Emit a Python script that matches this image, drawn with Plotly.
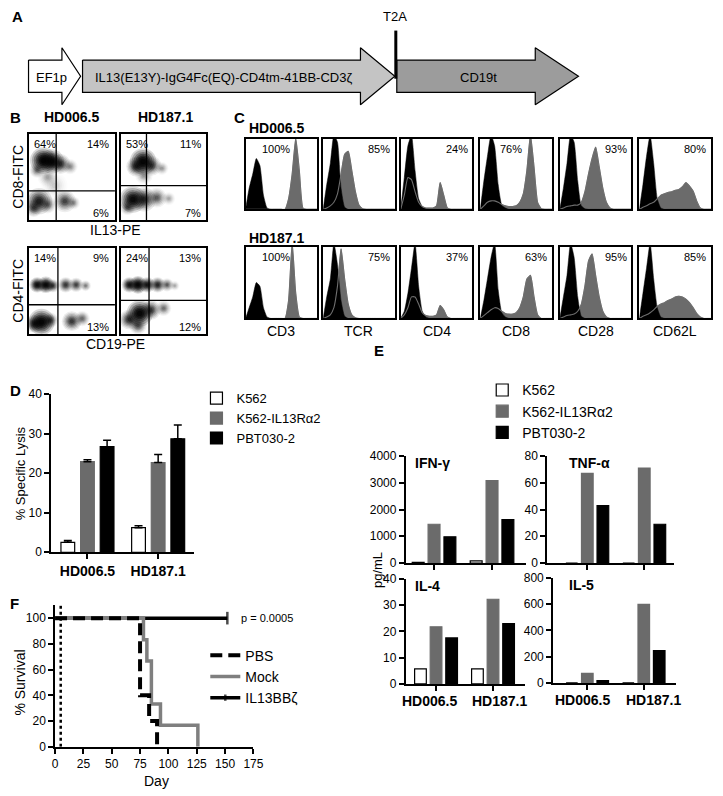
import plotly.graph_objects as go

# ======================= DATA =======================
# Panel A - construct map
construct_parts = ["EF1p", "IL13(E13Y)-IgG4Fc(EQ)-CD4tm-41BB-CD3ζ", "CD19t"]
part_start = [26, 81, 401]
part_end = [79, 399, 586]
t2a_site = 400

# Panel B - flow dot plots
donors = ["HD006.5", "HD187.1"]
b_xlabels = ["IL13-PE", "CD19-PE"]
b_ylabels = ["CD8-FITC", "CD4-FITC"]
gate_x = [0.32, 0.30, 0.34, 0.33]
gate_y = [0.34, 0.40, 0.34, 0.39]
quad_pct = [["64%", "14%", "6%"], ["53%", "11%", "7%"],
            ["14%", "9%", "13%"], ["24%", "13%", "12%"]]
# event populations: (x, y, spread, density)
clusters_cd8_hd0065 = [(0.17, 0.69, 24, 1.0), (0.27, 0.68, 22, 0.9), (0.37, 0.65, 18, 0.5),
                       (0.48, 0.62, 14, 0.22), (0.10, 0.58, 14, 0.3), (0.22, 0.50, 18, 0.15),
                       (0.12, 0.22, 24, 0.65), (0.06, 0.14, 16, 0.4), (0.22, 0.18, 16, 0.3),
                       (0.42, 0.22, 20, 0.45), (0.52, 0.20, 12, 0.2), (0.30, 0.40, 24, 0.08)]
clusters_cd8_hd1871 = [(0.26, 0.68, 24, 1.0), (0.18, 0.62, 18, 0.55), (0.36, 0.63, 18, 0.45),
                       (0.48, 0.60, 12, 0.18), (0.27, 0.52, 16, 0.2), (0.14, 0.24, 24, 0.9),
                       (0.27, 0.24, 22, 0.6), (0.42, 0.26, 18, 0.35), (0.56, 0.25, 12, 0.15),
                       (0.08, 0.15, 14, 0.35)]
clusters_cd4_hd0065 = [(0.10, 0.57, 14, 0.85), (0.20, 0.57, 15, 0.95), (0.28, 0.56, 12, 0.5),
                       (0.43, 0.57, 14, 0.5), (0.55, 0.57, 13, 0.45), (0.66, 0.56, 10, 0.25),
                       (0.15, 0.14, 24, 1.0), (0.07, 0.12, 16, 0.6), (0.25, 0.16, 14, 0.45),
                       (0.50, 0.15, 18, 0.5), (0.62, 0.18, 14, 0.3)]
clusters_cd4_hd1871 = [(0.10, 0.57, 14, 0.75), (0.20, 0.57, 16, 1.0), (0.31, 0.57, 14, 0.75),
                       (0.43, 0.57, 14, 0.6), (0.54, 0.57, 12, 0.35), (0.63, 0.56, 9, 0.15),
                       (0.22, 0.24, 24, 1.0), (0.10, 0.17, 18, 0.55), (0.35, 0.28, 18, 0.5),
                       (0.50, 0.30, 14, 0.28), (0.20, 0.10, 16, 0.4)]

# Panel C - histograms (fluorescence bins, normalised counts)
hist_bins = [0, 5, 10, 15, 20, 25, 30, 35, 40, 45, 50, 55, 60, 65, 70, 75, 80, 85, 90, 95, 100]
c_markers = ["CD3", "TCR", "CD4", "CD8", "CD28", "CD62L"]
c_pct = [["100%", "85%", "24%", "76%", "93%", "80%"],
         ["100%", "75%", "37%", "63%", "95%", "85%"]]
iso_hd0065 = [
    [0, 0.3, 0.5, 0.72, 0.62, 0.2, 0.02, 0, 0, 0, 0, 0, 0, 0, 0, 0, 0, 0, 0, 0, 0],
    [0, 0.35, 0.65, 1.05, 0.95, 0.3, 0.03, 0, 0, 0, 0, 0, 0, 0, 0, 0, 0, 0, 0, 0, 0],
    [0, 0.45, 0.9, 1.05, 0.55, 0.15, 0.04, 0.01, 0, 0, 0, 0, 0, 0, 0, 0, 0, 0, 0, 0, 0],
    [0, 0.4, 0.75, 1.05, 0.9, 0.35, 0.06, 0.02, 0, 0, 0, 0, 0, 0, 0, 0, 0, 0, 0, 0, 0],
    [0, 0.3, 0.65, 1.05, 0.95, 0.4, 0.05, 0.01, 0, 0, 0, 0, 0, 0, 0, 0, 0, 0, 0, 0, 0],
    [0, 0.35, 0.75, 1.05, 0.65, 0.15, 0.02, 0, 0, 0, 0, 0, 0, 0, 0, 0, 0, 0, 0, 0, 0]]
stain_hd0065 = [
    [0, 0, 0, 0, 0, 0, 0, 0, 0, 0, 0, 0, 0.15, 0.5, 1.0, 0.55, 0.02, 0, 0, 0, 0],
    [0, 0.02, 0.05, 0.1, 0.22, 0.5, 0.78, 0.82, 0.55, 0.25, 0.06, 0.01, 0, 0, 0, 0, 0, 0, 0, 0, 0],
    [0, 0.2, 0.45, 0.42, 0.25, 0.1, 0.04, 0.02, 0.02, 0.02, 0.05, 0.38, 0.2, 0.02, 0, 0, 0, 0, 0, 0, 0],
    [0, 0.05, 0.1, 0.12, 0.12, 0.1, 0.07, 0.05, 0.04, 0.04, 0.05, 0.1, 0.22, 0.55, 1.05, 0.6, 0.1, 0.01, 0, 0, 0],
    [0, 0.02, 0.04, 0.05, 0.06, 0.06, 0.1, 0.25, 0.5, 0.72, 0.88, 0.6, 0.3, 0.1, 0.02, 0, 0, 0, 0, 0, 0],
    [0, 0.03, 0.05, 0.08, 0.1, 0.15, 0.2, 0.22, 0.24, 0.25, 0.27, 0.28, 0.32, 0.38, 0.33, 0.26, 0.12, 0.02, 0, 0, 0]]
iso_hd1871 = [
    [0, 0.15, 0.3, 0.5, 0.45, 0.15, 0.02, 0, 0, 0, 0, 0, 0, 0, 0, 0, 0, 0, 0, 0, 0],
    [0, 0.3, 0.55, 1.05, 0.75, 0.25, 0.03, 0, 0, 0, 0, 0, 0, 0, 0, 0, 0, 0, 0, 0, 0],
    [0, 0.1, 0.35, 0.7, 1.05, 0.45, 0.1, 0.02, 0, 0, 0, 0, 0, 0, 0, 0, 0, 0, 0, 0, 0],
    [0, 0.25, 0.55, 0.85, 1.05, 0.4, 0.08, 0.02, 0, 0, 0, 0, 0, 0, 0, 0, 0, 0, 0, 0, 0],
    [0, 0.3, 0.6, 1.05, 0.85, 0.3, 0.03, 0, 0, 0, 0, 0, 0, 0, 0, 0, 0, 0, 0, 0, 0],
    [0, 0.35, 0.7, 1.05, 0.55, 0.15, 0.02, 0, 0, 0, 0, 0, 0, 0, 0, 0, 0, 0, 0, 0, 0]]
stain_hd1871 = [
    [0, 0, 0, 0, 0, 0, 0, 0, 0, 0, 0, 0, 0.25, 1.05, 0.35, 0.02, 0, 0, 0, 0, 0],
    [0, 0.02, 0.05, 0.15, 0.45, 0.97, 0.55, 0.2, 0.05, 0.01, 0, 0, 0, 0, 0, 0, 0, 0, 0, 0, 0],
    [0, 0.05, 0.15, 0.3, 0.3, 0.2, 0.08, 0.04, 0.03, 0.03, 0.05, 0.18, 0.12, 0.02, 0, 0, 0, 0, 0, 0, 0],
    [0, 0.04, 0.08, 0.12, 0.15, 0.14, 0.1, 0.07, 0.06, 0.06, 0.08, 0.15, 0.3, 0.55, 0.6, 0.3, 0.05, 0, 0, 0, 0],
    [0, 0.02, 0.04, 0.05, 0.06, 0.1, 0.2, 0.45, 0.8, 0.9, 0.6, 0.3, 0.1, 0.02, 0, 0, 0, 0, 0, 0, 0],
    [0, 0.03, 0.05, 0.08, 0.12, 0.17, 0.2, 0.22, 0.25, 0.27, 0.3, 0.31, 0.3, 0.27, 0.22, 0.15, 0.07, 0.02, 0, 0, 0]]

# Panel D - cytotoxicity (% specific lysis, mean and SEM)
groups = ["HD006.5", "HD187.1"]
targets = ["K562", "K562-IL13Rα2", "PBT030-2"]
lysis_k562 = [2.5, 6.2]
lysis_k562_sem = [0.5, 0.5]
lysis_il13ra2 = [22.9, 22.7]
lysis_il13ra2_sem = [0.5, 2.0]
lysis_pbt030 = [26.7, 28.7]
lysis_pbt030_sem = [1.6, 3.5]

# Panel E - cytokines (pg/mL)
ifng = [[30, 80], [1450, 3080], [980, 1620]]
tnfa = [[0, 0], [67, 71], [43, 29]]
il4 = [[5.7, 5.7], [21.7, 32.2], [17.5, 22.9]]
il5 = [[0, 0], [72, 597], [18, 245]]

# Panel F - survival
pbs_days = [0, 75, 83, 90]
pbs_surv = [100, 40, 20, 0]
mock_days = [0, 78, 81, 85, 93, 126]
mock_surv = [100, 83.3, 66.7, 33.3, 16.7, 0]
il13bbz_days = [0, 152]
il13bbz_surv = [100, 100]
treatment_day = 5

# ======================= FIGURE =======================
W, H = 723, 796
FONT = "Liberation Sans, Arial, Helvetica, sans-serif"
GRAY = "#6b6b6b"

fig = go.Figure()
axes = {}
anns = []
count = [0]


def add_axes(xpx, ypx, xr, yr, xextra=None, yextra=None):
    count[0] += 1
    s = "" if count[0] == 1 else str(count[0])
    base = dict(showgrid=False, zeroline=False, showticklabels=False, ticks="",
                showline=False, fixedrange=True)
    xa = dict(base, domain=[xpx[0] / W, xpx[1] / W], range=list(xr), anchor="y" + s)
    ya = dict(base, domain=[1 - ypx[1] / H, 1 - ypx[0] / H], range=list(yr), anchor="x" + s)
    if xextra:
        xa.update(xextra)
    if yextra:
        ya.update(yextra)
    axes["xaxis" + s] = xa
    axes["yaxis" + s] = ya
    return "x" + s, "y" + s


def note(x, y, s, size=13, bold=False, xanchor="center", yanchor="middle", angle=0,
         xref="paper", yref="paper"):
    if xref == "paper":
        x = x / W
    if yref == "paper":
        y = 1 - y / H
    anns.append(dict(x=x, y=y, xref=xref, yref=yref, text=s, showarrow=False,
                     xanchor=xanchor, yanchor=yanchor, textangle=angle,
                     font=dict(family=FONT, size=size, color="black",
                               weight="bold" if bold else "normal")))


BOX = dict(showline=True, mirror=True, linecolor="black", linewidth=1.5)


def chart_axis(tickvals=None, labels=True, tsize=12, bold=False, cat=False):
    d = dict(showline=True, linecolor="black", linewidth=1.5, ticks="outside", ticklen=5,
             tickwidth=1.5, tickcolor="black", showticklabels=labels, tickangle=0,
             tickfont=dict(family=FONT, size=tsize, color="black",
                           weight="bold" if bold else "normal"))
    if tickvals is not None:
        d["tickvals"] = tickvals
    if cat:
        d["type"] = "category"
    return d


# ---------- Panel letters ----------
for letter, (lx, ly) in zip("ABCDEF", [(7, 10), (5, 112), (233, 112), (5, 390), (376, 350), (5, 607)]):
    note(lx, ly, letter, size=15, bold=True, xanchor="left")

# ---------- Panel A ----------
xa, ya = add_axes((0, W), (0, 110), (0, W), (110, 0))
part_fill = ["white", "#c4c4c4", "#9c9c9c"]
part_head = [19, 35, 44]
cy, body, head = 70.5, 16.5, 29
for i, name in enumerate(construct_parts):
    s, e, h = part_start[i], part_end[i], part_head[i]
    xs = [s, e - h, e - h, e, e - h, e - h, s, s]
    ys = [cy - body, cy - body, cy - head, cy, cy + head, cy + body, cy + body, cy - body]
    fig.add_trace(go.Scatter(x=xs, y=ys, xaxis=xa, yaxis=ya, mode="lines", fill="toself",
                             fillcolor=part_fill[i], line=dict(color="black", width=1.2),
                             showlegend=False, hoverinfo="skip"))
    note(s + 0.45 * (e - s), cy + 1, name, size=13, xref=xa, yref=ya)
fig.add_trace(go.Scatter(x=[t2a_site, t2a_site], y=[24, 73], xaxis=xa, yaxis=ya, mode="lines",
                         line=dict(color="black", width=3), showlegend=False, hoverinfo="skip"))
note(t2a_site - 1, 10, "T2A", size=13, xref=xa, yref=ya)

# ---------- Panel B ----------
b_boxes = [(26, 114, 129, 217), (120, 207, 129, 217), (26, 114, 245, 333), (120, 207, 245, 333)]
b_clusters = [clusters_cd8_hd0065, clusters_cd8_hd1871, clusters_cd4_hd0065, clusters_cd4_hd1871]
layers = [(1.0, 0.15), (0.86, 0.22), (0.72, 0.3), (0.58, 0.38), (0.45, 0.45), (0.33, 0.52), (0.2, 0.6)]
for i, (x0, x1, y0, y1) in enumerate(b_boxes):
    xa, ya = add_axes((x0, x1), (y0, y1), (0, 1), (0, 1), BOX, BOX)
    cl = b_clusters[i]
    for f, op in layers:
        fig.add_trace(go.Scatter(
            x=[c[0] for c in cl], y=[c[1] for c in cl], xaxis=xa, yaxis=ya, mode="markers",
            marker=dict(size=[c[2] * f * 1.1 for c in cl], color="black",
                        opacity=[min(1, c[3] * op) for c in cl], line=dict(width=0)),
            showlegend=False, hoverinfo="skip"))
    gx, gy = gate_x[i], gate_y[i]
    fig.add_trace(go.Scatter(x=[gx, gx, None, 0, 1], y=[0, 1, None, gy, gy], xaxis=xa, yaxis=ya,
                             mode="lines", line=dict(color="black", width=1.3),
                             showlegend=False, hoverinfo="skip"))
    p = quad_pct[i]
    note(0.04, 0.885, p[0], size=11, xanchor="left", xref=xa, yref=ya)
    note(0.96, 0.885, p[1], size=11, xanchor="right", xref=xa, yref=ya)
    note(0.96, 0.085, p[2], size=11, xanchor="right", xref=xa, yref=ya)

note(70, 112, donors[0], size=14, bold=True)
note(165, 112, donors[1], size=14, bold=True)
note(15, 173, b_ylabels[0], size=14, angle=-90)
note(115, 227, b_xlabels[0], size=14)
note(15, 289, b_ylabels[1], size=14, angle=-90)
note(115, 343, b_xlabels[1], size=14)

# ---------- Panel C ----------
c_x0 = [247, 326, 405, 486, 567, 648]
c_rows = [(134, 206), (244, 317)]
c_mid = [[True, False, False, True, False, False], [True, False, False, False, False, False]]
iso_all = [iso_hd0065, iso_hd1871]
stain_all = [stain_hd0065, stain_hd1871]
for r, (y0, y1) in enumerate(c_rows):
    for j in range(6):
        xa, ya = add_axes((c_x0[j], c_x0[j] + 73), (y0, y1), (0, 100), (0, 1.0), BOX, BOX)
        fig.add_trace(go.Scatter(x=hist_bins, y=stain_all[r][j], xaxis=xa, yaxis=ya, mode="lines",
                                 fill="tozeroy", fillcolor=GRAY, line=dict(color=GRAY, width=0.5, shape="spline", smoothing=0.5),
                                 showlegend=False, hoverinfo="skip"))
        fig.add_trace(go.Scatter(x=hist_bins, y=iso_all[r][j], xaxis=xa, yaxis=ya, mode="lines",
                                 fill="tozeroy", fillcolor="black", line=dict(color="black", width=0.5, shape="spline", smoothing=0.5),
                                 showlegend=False, hoverinfo="skip"))
        fig.add_trace(go.Scatter(x=hist_bins, y=stain_all[r][j], xaxis=xa, yaxis=ya, mode="lines",
                                 line=dict(color="#6e6e6e", width=1.1, shape="spline", smoothing=0.5),
                                 showlegend=False, hoverinfo="skip"))
        if c_mid[r][j]:
            note(43, 0.85, c_pct[r][j], size=11, xref=xa, yref=ya)
        else:
            note(96, 0.85, c_pct[r][j], size=11, xanchor="right", xref=xa, yref=ya)
        if r == 1:
            note(c_x0[j] + 36.5, 330, c_markers[j], size=14)
note(248, 123, donors[0], size=14, bold=True, xanchor="left")
note(248, 235, donors[1], size=14, bold=True, xanchor="left")

# ---------- Panel D ----------
fills = ["white", GRAY, "black"]
edges = ["black", GRAY, "black"]
xa, ya = add_axes((49, 195), (394, 555), (-0.514, 1.514), (0, 40),
                  chart_axis(None, True, 14, True, cat=True), chart_axis([0, 10, 20, 30, 40]))
d_vals = [lysis_k562, lysis_il13ra2, lysis_pbt030]
d_sem = [lysis_k562_sem, lysis_il13ra2_sem, lysis_pbt030_sem]
slot, bw = 20 / 72, 14 / 72
for i in range(3):
    fig.add_trace(go.Bar(
        x=groups, y=d_vals[i], width=bw, offset=(i - 1) * slot - bw / 2, xaxis=xa, yaxis=ya,
        marker=dict(color=fills[i], line=dict(color=edges[i], width=1.2)),
        error_y=dict(type="data", array=d_sem[i], arrayminus=[0, 0], symmetric=False,
                     color="black", thickness=1.5, width=4),
        name=targets[i], legend="legend", hoverinfo="skip"))
note(18, 475, "% Specific Lysis", size=13, angle=-90)

# ---------- Panel E ----------
e_specs = [
    ("IFN-γ", ifng, (410, 533), (457, 566), (-0.49, 1.593), [0, 1000, 2000, 3000, 4000], None, (418, 464)),
    ("TNF-α", tnfa, (554, 683), (457, 566), (-0.707, 1.517), [0, 20, 40, 60, 80], None, (574, 464)),
    ("IL-4", il4, (410, 532), (582, 689), (-0.534, 1.569), [0, 10, 20, 30, 40], (434, 506), (418, 589)),
    ("IL-5", il5, (560, 685), (581, 688), (-0.609, 1.565), [0, 200, 400, 600, 800], (590, 662), (574, 588)),
]
eslot, ebw = 16 / 58.5, 12 / 58.5
for k, (title, vals, xp, yp, xr, ticks, labpos, tpos) in enumerate(e_specs):
    xa, ya = add_axes(xp, yp, xr, (0, ticks[-1]),
                      chart_axis(None, False, 14, True, cat=True), chart_axis(ticks))
    for i in range(3):
        fig.add_trace(go.Bar(
            x=groups, y=vals[i], width=ebw, offset=(i - 1) * eslot - ebw / 2, xaxis=xa, yaxis=ya,
            marker=dict(color=fills[i], line=dict(color=edges[i], width=1.2)),
            name=targets[i], legend="legend2", showlegend=(k == 0), hoverinfo="skip"))
    note(tpos[0], tpos[1], title, size=14, bold=True, xanchor="left")
    if labpos:
        for g, lx in zip(groups, labpos):
            note(lx, yp[1] + 17, g, size=14, bold=True)
note(382, 573, "pg/mL", size=13, angle=-90)

# ---------- Panel F ----------
xa, ya = add_axes((53, 255), (609, 753), (0, 175), (0, 110),
                  chart_axis([0, 25, 50, 75, 100, 125, 150, 175]), chart_axis([0, 20, 40, 60, 80, 100]))
fig.add_trace(go.Scatter(x=[treatment_day, treatment_day], y=[0, 110], xaxis=xa, yaxis=ya, mode="lines",
                         line=dict(color="black", width=2.5, dash="dot"), showlegend=False, hoverinfo="skip"))
fig.add_trace(go.Scatter(x=il13bbz_days, y=il13bbz_surv, xaxis=xa, yaxis=ya, mode="lines+markers",
                         line=dict(color="black", width=3.5, shape="hv"),
                         marker=dict(symbol="line-ns", size=[0, 9], line=dict(width=2.5, color="black")),
                         name="IL13BBζ", legend="legend3", legendrank=3, legendgroup="c",
                         cliponaxis=False, hoverinfo="skip"))
fig.add_trace(go.Scatter(x=mock_days, y=mock_surv, xaxis=xa, yaxis=ya, mode="lines",
                         line=dict(color="#7f7f7f", width=3.5, shape="hv"),
                         name="Mock", legend="legend3", legendrank=2, legendgroup="b",
                         cliponaxis=False, hoverinfo="skip"))
fig.add_trace(go.Scatter(x=pbs_days, y=pbs_surv, xaxis=xa, yaxis=ya, mode="lines",
                         line=dict(color="black", width=4, shape="hv", dash="12px,6px"),
                         name="PBS", legend="legend3", legendrank=1, legendgroup="a",
                         cliponaxis=False, hoverinfo="skip"))
note(240, 622, "p = 0.0005", size=11, xanchor="left")
note(17, 688, "% Survival", size=14, angle=-90)
note(156, 788, "Day", size=14)

# ---------- Layout ----------
def legend_at(x, y, size, gap=0):
    return dict(x=x / W, y=1 - y / H, xanchor="left", yanchor="top", bgcolor="rgba(0,0,0,0)",
                font=dict(family=FONT, size=size, color="black"), tracegroupgap=gap,
                itemclick=False, itemdoubleclick=False, traceorder="normal")

fig.update_layout(
    width=W, height=H, margin=dict(l=0, r=0, t=0, b=0), autosize=False,
    paper_bgcolor="white", plot_bgcolor="white", barmode="overlay", hovermode=False,
    font=dict(family=FONT, color="black"), annotations=anns,
    legend=legend_at(197, 383, 13),
    legend2=legend_at(488, 374, 14),
    legend3=legend_at(206, 644, 14, 4),
    **axes)

fig.write_html("out.html", config={"displayModeBar": False},
               post_script="document.body.style.margin='0px';")
